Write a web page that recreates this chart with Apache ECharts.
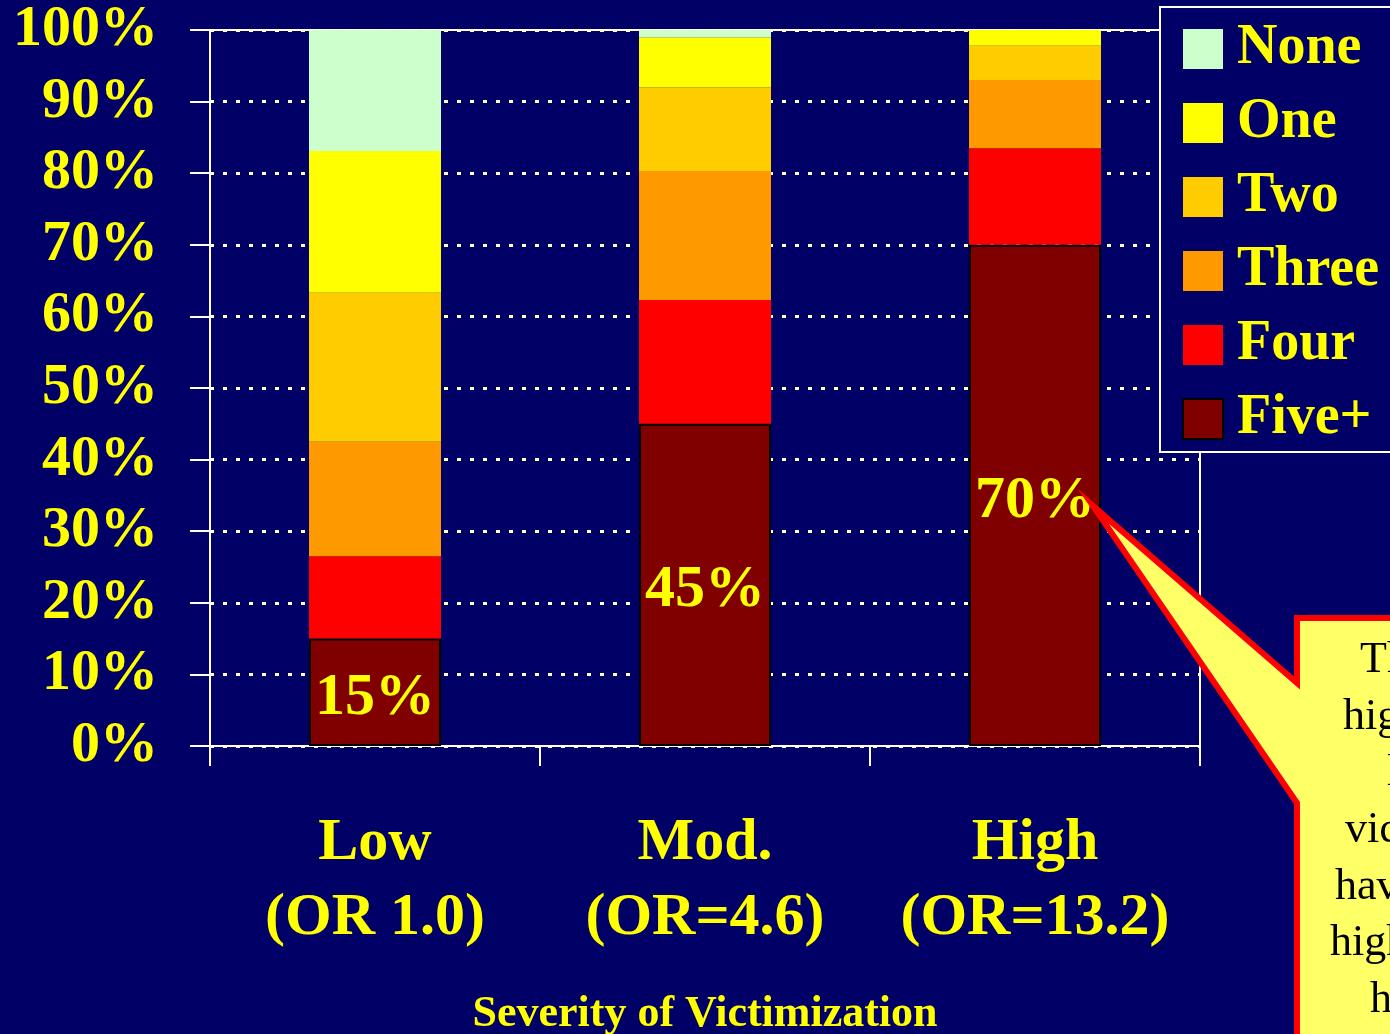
<!DOCTYPE html>
<html>
<head>
<meta charset="utf-8">
<script src="https://cdn.jsdelivr.net/npm/echarts@6/dist/echarts.min.js"></script>
<style>
  html, body { margin: 0; padding: 0; background: #000066; }
  #chart { width: 1390px; height: 1034px; }
</style>
</head>
<body>
<div id="chart"></div>
<script>
// Share of people by number of symptoms, grouped by severity of victimization
const severity = ['Low', 'Mod.', 'High'];
const oddsRatio = ['(OR 1.0)', '(OR=4.6)', '(OR=13.2)'];

const fivePlus = [15, 45, 70];
const four     = [11.5, 17.3, 13.5];
const three    = [16, 18, 9.5];
const two      = [20.8, 11.7, 4.8];
const one      = [19.8, 7, 2.2];
const none     = [16.9, 1, 0];

const yTicks = [0, 10, 20, 30, 40, 50, 60, 70, 80, 90, 100];

const legendOrder = ['None', 'One', 'Two', 'Three', 'Four', 'Five+'];

const calloutLines = [
  'The',
  'highest',
  'level of',
  'victimization',
  'have much',
  'higher rates of',
  'hopelessness'
];

const serif = "'Liberation Serif', 'Times New Roman', serif";
const yellow = '#FFFF00';

const chart = echarts.init(document.getElementById('chart'));

function barSeries(name, data, color, extra) {
  return Object.assign({
    name: name,
    type: 'bar',
    stack: 'total',
    barWidth: '40%',
    data: data,
    itemStyle: { color: color },
    emphasis: { disabled: true }
  }, extra || {});
}

const calloutX = [1360, 1343, 1387, 1345, 1335, 1330, 1370];
const calloutY = [660, 717, 773, 830, 887, 943, 1000];

const calloutText = calloutLines.map((t, i) => ({
  type: 'text',
  z: 101,
  x: calloutX[i],
  y: calloutY[i],
  style: {
    text: t,
    font: '44px ' + serif,
    fill: '#000000',
    textAlign: 'left',
    textVerticalAlign: 'middle'
  }
}));

chart.setOption({
  backgroundColor: '#000066',
  animation: false,
  grid: {
    left: 210, right: 190, top: 30, bottom: 288,
    outerBoundsMode: 'none',
    containLabel: false,
    show: true, borderColor: '#FFFFFF', borderWidth: 2,
    backgroundColor: 'transparent'
  },
  legend: {
    data: legendOrder,
    orient: 'vertical',
    left: 1160, top: 7,
    padding: [14, 22, 5, 22],
    itemWidth: 40, itemHeight: 40,
    itemGap: 18,
    borderColor: '#FFFFFF', borderWidth: 2,
    backgroundColor: '#000066',
    icon: 'rect',
    selectedMode: false,
    textStyle: {
      color: yellow, fontFamily: serif, fontWeight: 'bold',
      fontSize: 56, padding: [0, 0, 0, 9]
    }
  },
  xAxis: {
    type: 'category',
    data: severity.map((s, i) => s + '\n' + oddsRatio[i]),
    axisLine: { lineStyle: { color: '#FFFFFF', width: 2 } },
    axisTick: { show: true, length: 20, lineStyle: { color: '#FFFFFF', width: 2 } },
    axisLabel: {
      interval: 0, hideOverlap: false,
      color: yellow, fontFamily: serif, fontWeight: 'bold',
      fontSize: 60, lineHeight: 75, margin: 60
    },
    name: 'Severity of Victimization',
    nameLocation: 'middle',
    nameGap: 247,
    nameTextStyle: {
      color: yellow, fontFamily: serif, fontWeight: 'bold', fontSize: 44
    }
  },
  yAxis: {
    type: 'value',
    min: yTicks[0], max: yTicks[yTicks.length - 1], interval: 10,
    axisLine: { show: true, lineStyle: { color: '#FFFFFF', width: 2 } },
    axisTick: { show: true, length: 20, lineStyle: { color: '#FFFFFF', width: 2 } },
    axisLabel: {
      color: yellow, fontFamily: serif, fontWeight: 'bold',
      fontSize: 58, margin: 52, padding: [10, 0, 0, 0], formatter: '{value}%'
    },
    splitLine: {
      show: true,
      lineStyle: { color: '#FFFFCC', width: 3, type: [4, 9] }
    }
  },
  series: [
    barSeries('Five+', fivePlus, '#800000', {
      itemStyle: { color: '#800000', borderColor: '#000000', borderWidth: 2 },
      label: {
        show: true, position: 'inside', formatter: '{c}%', offset: [0, 6],
        color: yellow, fontFamily: serif, fontWeight: 'bold', fontSize: 60
      }
    }),
    barSeries('Four', four, '#FF0000'),
    barSeries('Three', three, '#FF9900'),
    barSeries('Two', two, '#FFCC00'),
    barSeries('One', one, '#FFFF00'),
    barSeries('None', none, '#CCFFCC')
  ],
  graphic: [
    {
      type: 'polygon',
      z: 100,
      shape: {
        points: [
          [1297, 618], [1297, 683], [1093, 506], [1297, 803],
          [1297, 1045], [1400, 1045], [1400, 618]
        ]
      },
      style: { fill: '#FFFF66', stroke: '#FF0000', lineWidth: 6, lineJoin: 'miter' }
    }
  ].concat(calloutText)
});
</script>
</body>
</html>
